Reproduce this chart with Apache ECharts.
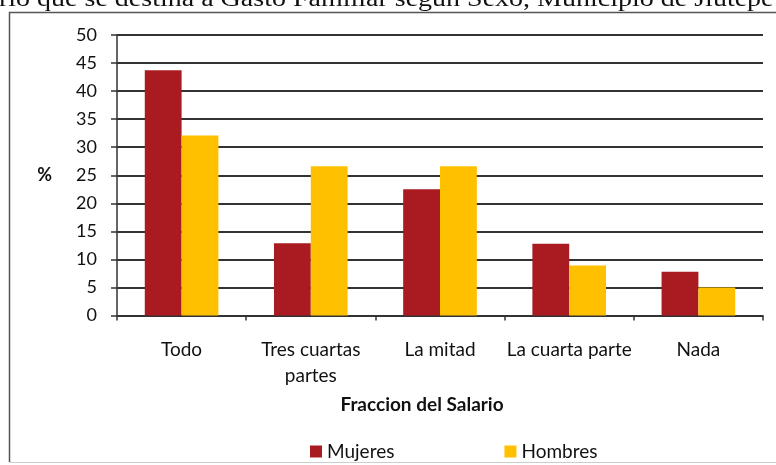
<!DOCTYPE html>
<html><head><meta charset="utf-8">
<script src="https://cdn.jsdelivr.net/npm/echarts@6/dist/echarts.min.js"></script>
<style>html,body{margin:0;padding:0;background:#fff;}#c{width:776px;height:465px;}</style>
</head><body><div id="c"></div>
<script>
const titleText = 'rio que se destina a Gasto Familiar según Sexo, Municipio de Jiutepe';
const categories = ['Todo', 'Tres cuartas\npartes', 'La mitad', 'La cuarta parte', 'Nada'];
const mujeres = [43.7, 12.9, 22.5, 12.8, 7.8];
const hombres = [32.1, 26.6, 26.6, 8.9, 5.0];
const yTicks = {min: 0, max: 50, interval: 5};

const font = 'Lato, "Open Sans", sans-serif';
const chart = echarts.init(document.getElementById('c'), null, {renderer: 'canvas'});
chart.setOption({
  animation: false,
  backgroundColor: '#fff',
  textStyle: {fontFamily: font, color: '#111'},
  graphic: [
    {type: 'polyline', shape: {points: [[9.5, 462], [9.5, 12.5], [776, 12.5]]}, style: {fill: 'none', stroke: '#555', lineWidth: 1.5}, z: 0},
    {type: 'line', shape: {x1: 9.5, y1: 462.5, x2: 776, y2: 462.5}, style: {stroke: '#ccc', lineWidth: 1}, z: 0},
    {type: 'text', x: -1, y: 12, scaleY: 0.85, style: {text: titleText, font: '28px "Liberation Serif", serif', fill: '#111', verticalAlign: 'bottom'}, z: 10}
  ],
  grid: {left: 117, right: 13, top: 35, bottom: 149.5, containLabel: false},
  legend: {
    left: 305, top: 437, itemWidth: 12, itemHeight: 12, itemGap: 110, icon: 'rect',
    textStyle: {fontFamily: font, fontSize: 19, color: '#111'},
    data: ['Mujeres', 'Hombres']
  },
  xAxis: {
    type: 'category', data: categories,
    name: 'Fraccion del Salario', nameLocation: 'middle', nameGap: 80,
    nameTextStyle: {fontFamily: font, fontSize: 19, fontWeight: 'bold', color: '#111', padding: [0, 36, 0, 0]},
    axisLine: {lineStyle: {color: '#333', width: 1.5}},
    axisTick: {show: true, length: 5, lineStyle: {color: '#333', width: 1.5}},
    axisLabel: {fontFamily: font, fontSize: 19, color: '#111', margin: 21, lineHeight: 26, interval: 0}
  },
  yAxis: {
    type: 'value', min: yTicks.min, max: yTicks.max, interval: yTicks.interval,
    name: '%', nameLocation: 'middle', nameRotate: 0, nameGap: 65,
    nameTextStyle: {fontFamily: font, fontSize: 18, fontWeight: 'bold', color: '#111'},
    axisLine: {show: true, lineStyle: {color: '#333', width: 1.5}},
    axisTick: {show: true, length: 6, lineStyle: {color: '#333', width: 1.5}},
    axisLabel: {fontFamily: font, fontSize: 18, color: '#111', margin: 20},
    splitLine: {show: true, lineStyle: {color: '#333', width: 2}}
  },
  series: [
    {name: 'Mujeres', type: 'bar', data: mujeres, barGap: '0%', barCategoryGap: '43%', itemStyle: {color: '#A91B20'}},
    {name: 'Hombres', type: 'bar', data: hombres, itemStyle: {color: '#FFC000'}}
  ]
});
</script></body></html>
